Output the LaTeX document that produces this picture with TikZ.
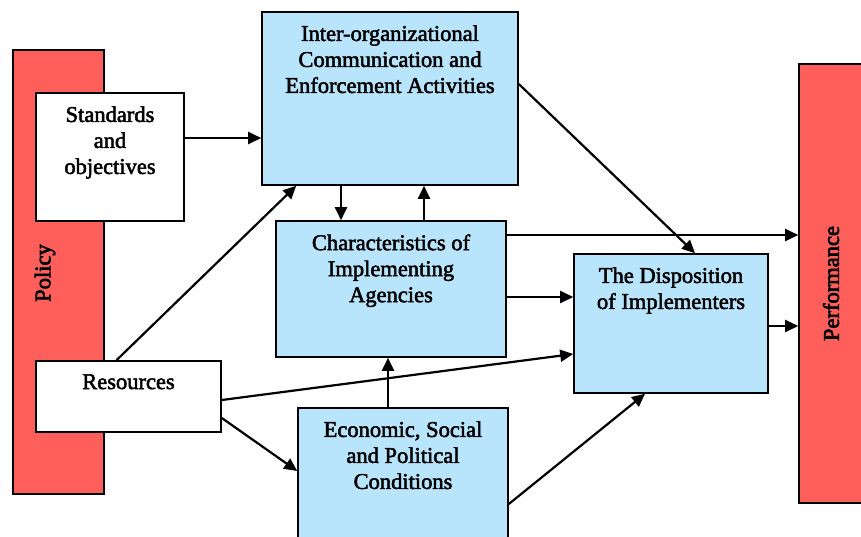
\documentclass[tikz,border=0pt]{standalone}
\usepackage{fontspec}
\newfontfamily\boxfont{Liberation Serif}[FakeBold=2.2]
\newfontfamily\barfont{Liberation Serif}[FakeBold=3]
\usetikzlibrary{arrows.meta,positioning}
\definecolor{barred}{RGB}{255,95,90}
\definecolor{boxblue}{RGB}{184,229,252}

\begin{document}
\begin{tikzpicture}[x=1pt,y=-1pt,line width=2.2pt,>={Triangle[length=13pt,width=12pt]},
  redbar/.style={draw,fill=barred,line width=1.6pt,inner sep=0pt},
  whitebox/.style={draw,fill=white,line width=1.6pt,inner sep=0pt},
  bluebox/.style={draw,fill=boxblue,line width=1.6pt,inner sep=0pt},
  boxtext/.style={anchor=north,yshift=-13pt,align=center,inner sep=0pt,font=\fontsize{22.5}{26}\boxfont},
  bartext/.style={rotate=90,font=\fontsize{22.5}{26}\barfont}]
  \useasboundingbox (0,0) rectangle (861,536);
  \node[redbar,minimum width=91pt,minimum height=444pt] (policy) at (58.5,272) {};
  \node[bartext] (policytxt) at (45,273) {Policy};
  \node[redbar,minimum width=72pt,minimum height=439pt] (perf) at (835,283.5) {};
  \node[bartext] (perftxt) at (831,283.5) {Performance};
  \node[whitebox,minimum width=148pt,minimum height=128pt,
    label={[boxtext]north:Standards\\and\\objectives}] (std) at (110,157) {};
  \node[whitebox,minimum width=185pt,minimum height=71pt,
    label={[boxtext]north:Resources}] (res) at (128.5,396.5) {};
  \node[bluebox,minimum width=256pt,minimum height=173pt,
    label={[boxtext]north:Inter-organizational\\Communication and\\Enforcement Activities}] (comm) at (390,98.5) {};
  \node[bluebox,minimum width=230pt,minimum height=136pt,
    label={[boxtext]north:Characteristics of\\Implementing\\Agencies}] (chars) at (391,289) {};
  \node[bluebox,minimum width=194pt,minimum height=139pt,
    label={[boxtext]north:The Disposition\\of Implementers}] (disp) at (671,323.5) {};
  \node[bluebox,minimum width=210pt,minimum height=140pt,
    label={[boxtext]north:Economic, Social\\and Political\\Conditions}] (econ) at (403,478) {};

  \draw[->] ([yshift=19pt]std.east) -- ([yshift=19pt]std.east -| comm.west);
  \draw[->] ([xshift=-12pt]res.north) -- ([xshift=35pt]comm.south west);
  \draw[->] ([xshift=-50pt]chars.north |- comm.south) -- ([xshift=-50pt]chars.north);
  \draw[->] ([xshift=33pt]chars.north) -- ([xshift=33pt]chars.north |- comm.south);
  \draw[->] ([yshift=14.5pt]comm.east) -- ([xshift=24pt]disp.north);
  \draw[->] ([yshift=54pt]chars.east) -- ([yshift=54pt]chars.east -| perf.west);
  \draw[->] ([yshift=-8pt]chars.east) -- ([yshift=-8pt]chars.east -| disp.west);
  \draw[->] ([yshift=-3.5pt]res.east) -- ([yshift=-30.5pt]disp.west);
  \draw[->] ([yshift=-21.5pt]res.east) -- ([yshift=7pt]econ.west);
  \draw[->] ([xshift=-15pt]econ.north) -- ([xshift=-15pt]econ.north |- chars.south);
  \draw[->] ([yshift=-26pt]econ.east) -- ([xshift=-26pt]disp.south);
  \draw[->] ([yshift=-2.5pt]disp.east) -- ([yshift=-2.5pt]disp.east -| perf.west);
\end{tikzpicture}
\end{document}
